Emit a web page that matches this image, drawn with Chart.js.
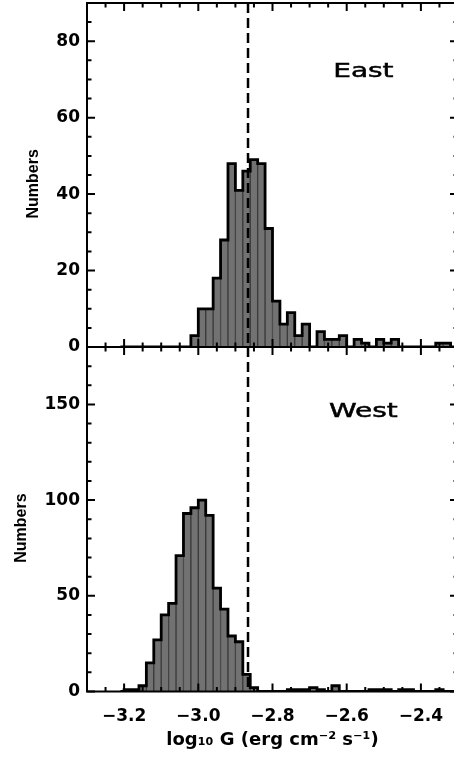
<!DOCTYPE html>
<html>
<head>
<meta charset="utf-8">
<script src="https://cdn.jsdelivr.net/npm/chart.js@4.4.0/dist/chart.umd.min.js"></script>
<style>
    html, body { margin: 0; padding: 0; background: #fff; overflow: hidden; }
    body { width: 454px; height: 759px; position: relative; }
    #east { position: absolute; left: 0; top: 0; }
    #west { position: absolute; left: 0; top: 340px; }
</style>
</head>
<body>
<canvas id="east" width="470" height="365"></canvas>
<canvas id="west" width="470" height="419"></canvas>
<script>
// Histogram bin centres (log10 G, bins 0.02 wide)
const binCenters = [
    -3.21, -3.19, -3.17, -3.15, -3.13, -3.11, -3.09, -3.07, -3.05, -3.03,
    -3.01, -2.99, -2.97, -2.95, -2.93, -2.91, -2.89, -2.87, -2.85, -2.83,
    -2.81, -2.79, -2.77, -2.75, -2.73, -2.71, -2.69, -2.67, -2.65, -2.63,
    -2.61, -2.59, -2.57, -2.55, -2.53, -2.51, -2.49, -2.47, -2.45, -2.43,
    -2.41, -2.39, -2.37, -2.35, -2.33, -2.31
];

// Counts per bin, east and west
const eastCounts = [
    0, 0, 0, 0, 0, 0, 0, 0, 0, 0,
    3, 10, 10, 18, 28, 48, 41, 46, 49, 48,
    31, 12, 6, 9, 3, 6, 0, 4, 2, 2,
    3, 0, 2, 1, 0, 2, 1, 2, 0, 0,
    0, 0, 0, 1, 1, 0
];
const westCounts = [
    0, 1, 1, 3, 15, 27, 40, 46, 71, 93,
    96, 100, 92, 54, 43, 29, 26, 9, 2, 0,
    0, 0, 0, 1, 1, 1, 2, 1, 0, 3,
    0, 0, 0, 0, 1, 1, 1, 0, 1, 1,
    0, 0, 0, 1, 0, 0
];

const xTicks = [-3.2, -3.0, -2.8, -2.6, -2.4];
const eastTicks = [0, 20, 40, 60, 80];
const westTicks = [0, 50, 100, 150];
const cutValue = -2.866;

const tickFont = { family: 'DejaVu Sans', weight: 'bold', size: 17 };

// IDL style frame: box, inward major/minor ticks, dashed cut line and panel name
const idlFrame = {
    id: 'idlFrame',
    afterDatasetsDraw(chart, args, opts) {
        const { ctx, chartArea: a, scales: { x, y } } = chart;
        ctx.save();
        ctx.strokeStyle = '#000';

        const cx = x.getPixelForValue(cutValue);
        ctx.lineWidth = 2.5;
        ctx.setLineDash([10, 5]);
        ctx.beginPath();
        ctx.moveTo(cx, a.top);
        ctx.lineTo(cx, a.bottom);
        ctx.stroke();
        ctx.setLineDash([]);

        ctx.lineWidth = 2;
        ctx.strokeRect(a.left, a.top, a.right - a.left, a.bottom - a.top);

        ctx.beginPath();
        // x ticks every 0.05, long ones on the labelled values
        for (let i = 0; i <= 20; i++) {
            const v = x.min + i * 0.05;
            const px = x.getPixelForValue(v);
            const major = xTicks.some(t => Math.abs(t - v) < 1e-6);
            const len = major ? 8 : 4.5;
            ctx.moveTo(px, a.bottom); ctx.lineTo(px, a.bottom - len);
            ctx.moveTo(px, a.top); ctx.lineTo(px, a.top + len);
        }
        // y ticks
        const n = Math.round(y.max / opts.yMinor);
        for (let i = 0; i <= n; i++) {
            const v = i * opts.yMinor;
            const py = y.getPixelForValue(v);
            const major = v % opts.yMajor === 0;
            const len = major ? 8 : 4.5;
            ctx.moveTo(a.left, py); ctx.lineTo(a.left + len, py);
            ctx.moveTo(a.right, py); ctx.lineTo(a.right - len, py);
        }
        ctx.stroke();

        // panel name
        ctx.fillStyle = '#000';
        ctx.font = '20px "DejaVu Sans"';
        ctx.textAlign = 'center';
        ctx.textBaseline = 'middle';
        ctx.translate(x.getPixelForValue(opts.labelX), y.getPixelForValue(opts.labelY));
        ctx.scale(1.4, 1);
        ctx.lineWidth = 0.5;
        ctx.fillText(opts.label, 0, 0);
        ctx.strokeText(opts.label, 0, 0);
        ctx.restore();
    }
};

function histDatasets(counts) {
    const pts = binCenters.map((c, i) => ({ x: c, y: counts[i] }));
    return [
        {
            type: 'line',
            data: pts,
            stepped: 'middle',
            borderColor: '#000',
            borderWidth: 2.8,
            pointRadius: 0,
            fill: false,
            order: 1
        },
        {
            type: 'bar',
            data: pts,
            backgroundColor: '#727272',
            borderColor: '#3a3a3a',
            borderWidth: 1,
            barPercentage: 1,
            categoryPercentage: 1,
            grouped: false,
            order: 2
        }
    ];
}

function yScale(max, ticks, titlePad) {
    return {
        min: 0,
        max: max,
        afterFit: s => { s.width = 87; s.paddingTop = 0; s.paddingBottom = 0; },
        afterBuildTicks: s => { s.ticks = ticks.map(v => ({ value: v })); },
        grid: { display: false, drawTicks: false },
        border: { display: false },
        ticks: { padding: 7, color: '#000', font: tickFont },
        title: {
            display: true,
            // trailing spaces push the word a little below the axis middle
            text: 'Numbers    ',
            color: '#000',
            font: { family: 'Liberation Sans', weight: 'bold', size: 16 },
            padding: { top: titlePad, bottom: 0 }
        }
    };
}

const baseOptions = {
    responsive: false,
    animation: false,
    devicePixelRatio: 1,
    plugins: { legend: { display: false }, tooltip: { enabled: false } }
};

new Chart(document.getElementById('east'), {
    type: 'bar',
    data: { datasets: histDatasets(eastCounts) },
    plugins: [idlFrame],
    options: {
        ...baseOptions,
        layout: { padding: { top: 3, right: 12, bottom: 18, left: 0 } },
        plugins: {
            ...baseOptions.plugins,
            idlFrame: { yMajor: 20, yMinor: 5, label: 'East', labelX: -2.555, labelY: 72 }
        },
        scales: {
            x: { type: 'linear', min: -3.3, max: -2.3, offset: false, display: false },
            y: yScale(90, eastTicks, 24)
        }
    }
});

new Chart(document.getElementById('west'), {
    type: 'bar',
    data: { datasets: histDatasets(westCounts) },
    plugins: [idlFrame],
    options: {
        ...baseOptions,
        layout: { padding: { top: 7, right: 12, bottom: 0, left: 0 } },
        plugins: {
            ...baseOptions.plugins,
            idlFrame: { yMajor: 50, yMinor: 10, label: 'West', labelX: -2.555, labelY: 146 }
        },
        scales: {
            x: {
                type: 'linear',
                min: -3.3,
                max: -2.3,
                offset: false,
                afterFit: s => { s.height = 67.5; s.paddingLeft = 0; s.paddingRight = 0; },
                afterBuildTicks: s => { s.ticks = xTicks.map(v => ({ value: v })); },
                grid: { display: false, drawTicks: false },
                border: { display: false },
                ticks: {
                    padding: 15,
                    maxRotation: 0,
                    autoSkip: false,
                    color: '#000',
                    font: tickFont,
                    callback: v => (v < 0 ? '\u2212' : '') + Math.abs(v).toFixed(1)
                },
                title: {
                    display: true,
                    text: 'log\u2081\u2080 G (erg cm\u207b\u00b2 s\u207b\u00b9)',
                    color: '#000',
                    font: { family: 'DejaVu Sans', weight: 'bold', size: 18 },
                    padding: { top: 0, bottom: 8 }
                }
            },
            y: yScale(180, westTicks, 12)
        }
    }
});
</script>
</body>
</html>
